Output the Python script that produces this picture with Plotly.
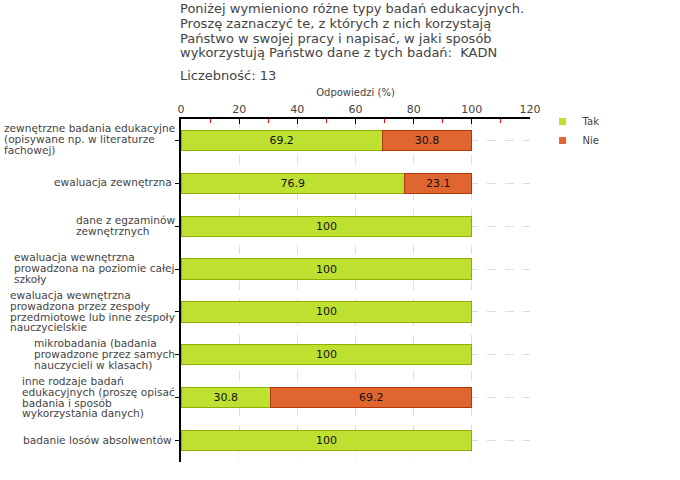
import plotly.graph_objects as go

categories = [
    "zewnętrzne badania edukacyjne<br>(opisywane np. w literaturze<br>fachowej)",
    "ewaluacja zewnętrzna ",
    "dane z egzaminów<br>zewnętrznych",
    "ewaluacja wewnętrzna<br>prowadzona na poziomie całej<br>szkoły",
    "ewaluacja wewnętrzna<br>prowadzona przez zespoły<br>przedmiotowe lub inne zespoły<br>nauczycielskie",
    "mikrobadania (badania<br>prowadzone przez samych<br>nauczycieli w klasach)",
    "inne rodzaje badań<br>edukacyjnych (proszę opisać<br>badania i sposób<br>wykorzystania danych)",
    "badanie losów absolwentów ",
]
tak = [69.2, 76.9, 100, 100, 100, 100, 30.8, 100]
nie = [30.8, 23.1, None, None, None, None, 69.2, None]

title_lines = [
    "Poniżej wymieniono różne typy badań edukacyjnych.",
    "Proszę zaznaczyć te, z których z nich korzystają",
    "Państwo w swojej pracy i napisać, w jaki sposób",
    "wykorzystują Państwo dane z tych badań:  KADN",
]
count_line = "Liczebność: 13"

ids = list(range(len(categories)))

GREEN = "#BEE030"
GREEN_LINE = "#8DAF00"
ORANGE = "#E0652F"
ORANGE_LINE = "#B0380A"
FONT = "DejaVu Sans"


def styled(label, px):
    return "<br>".join(
        '<span style="font-size:%spx">%s</span>' % (px, part) for part in label.split("<br>")
    )


fig = go.Figure()
fig.add_trace(go.Bar(
    y=ids, x=tak, orientation="h", name="Tak", showlegend=False,
    marker=dict(color=GREEN, line=dict(color=GREEN_LINE, width=1)),
    texttemplate="%{x}", textposition="inside", insidetextanchor="middle",
    textangle=0, textfont=dict(color="#111", size=11, family=FONT),
))
fig.add_trace(go.Bar(
    y=ids, x=nie, orientation="h", name="Nie", showlegend=False,
    marker=dict(color=ORANGE, line=dict(color=ORANGE_LINE, width=1)),
    texttemplate="%{x}", textposition="inside", insidetextanchor="middle",
    textangle=0, textfont=dict(color="#111", size=11, family=FONT),
))
# legend entries with small square symbols
fig.add_trace(go.Scatter(x=[None], y=[None], mode="markers", name="Tak",
                         marker=dict(symbol="square", size=7, color=GREEN)))
fig.add_trace(go.Scatter(x=[None], y=[None], mode="markers", name="Nie",
                         marker=dict(symbol="square", size=7, color=ORANGE)))

annotations = []
# category labels, left aligned blocks placed left of the axis
for i, c in enumerate(categories):
    annotations.append(dict(
        text=styled(c, 10.6), xref="paper", yref="y", x=0, y=i, xanchor="right",
        yanchor="middle", align="left", showarrow=False, xshift=-4, yshift=1,
        font=dict(family=FONT, size=8.3, color="#444"),
    ))
# title lines
title_y = [1.3207, 1.277, 1.2334, 1.1925]
for line, yy in zip(title_lines, title_y):
    annotations.append(dict(
        text=line, xref="paper", yref="paper", x=0, y=yy, xanchor="left",
        yanchor="middle", showarrow=False, xshift=-3,
        font=dict(family=FONT, size=13, color="#444"),
    ))
annotations.append(dict(
    text=count_line, xref="paper", yref="paper", x=0, y=1.1254, xanchor="left",
    yanchor="middle", showarrow=False, xshift=-3,
    font=dict(family=FONT, size=13, color="#444"),
))

fig.update_layout(
    width=680, height=480,
    margin=dict(l=181, r=150, t=119, b=18),
    paper_bgcolor="white", plot_bgcolor="white",
    barmode="stack", bargap=0.53,
    font=dict(family=FONT, size=11, color="#444"),
    annotations=annotations,
    legend=dict(x=1.036, y=1.035, xanchor="left", yanchor="top",
                font=dict(family=FONT, size=10, color="#444"),
                traceorder="normal",
                itemwidth=30, tracegroupgap=0, bgcolor="rgba(0,0,0,0)"),
)
fig.update_xaxes(
    side="top", range=[0, 120], dtick=20, tick0=0,
    showline=True, linecolor="black", linewidth=1.5,
    ticks="inside", ticklen=5, tickcolor="black",
    tickfont=dict(family=FONT, size=11, color="#444"),
    showgrid=True, gridcolor="#dddddd", griddash="dash", gridwidth=1,
    zeroline=False,
    minor=dict(dtick=10, tick0=0, ticks="inside", ticklen=4, tickcolor="red", showgrid=False),
    title=dict(text="Odpowiedzi (%)", font=dict(family=FONT, size=10, color="#444"), standoff=4),
)
fig.update_yaxes(
    range=[len(categories) - 0.5, -0.5],
    tickmode="array", tickvals=ids, ticktext=[""] * len(ids),
    showline=True, linecolor="black", linewidth=1.5,
    ticks="outside", ticklen=4, tickcolor="black",
    showgrid=True, gridcolor="#dddddd", griddash="dash", gridwidth=1,
    zeroline=False,
)

fig.write_html("out.html", config={"displayModeBar": False},
               post_script="document.body.style.margin='0';")
